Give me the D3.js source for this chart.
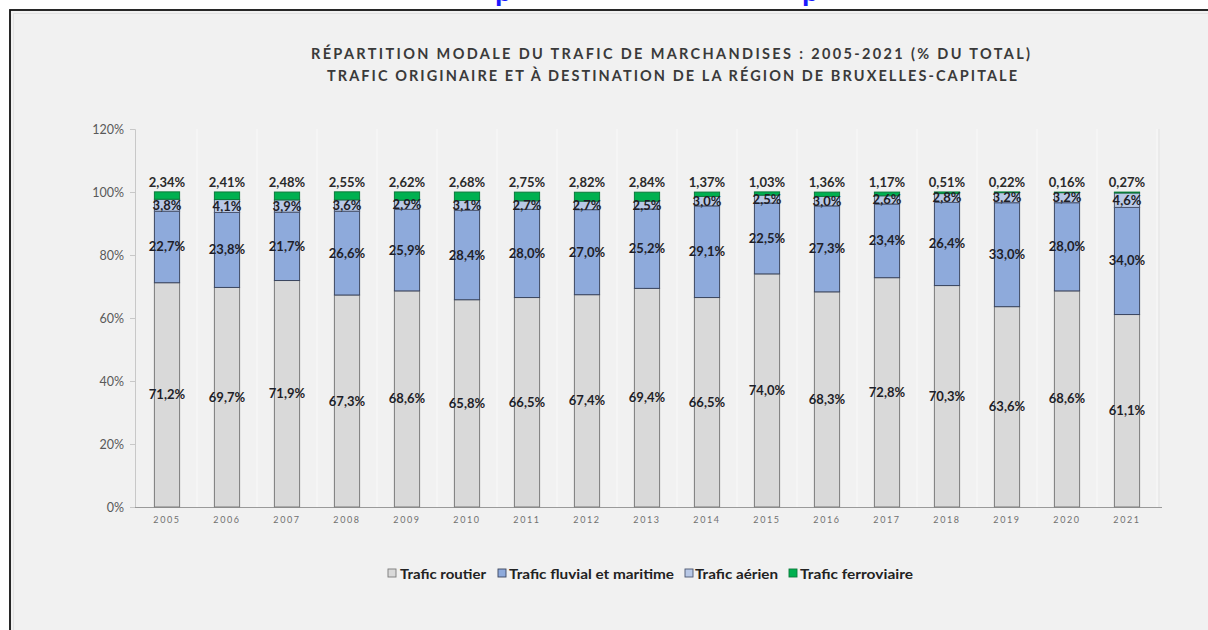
<!DOCTYPE html>
<html>
<head>
<meta charset="utf-8">
<script src="https://cdn.jsdelivr.net/npm/d3@7"></script>
<style>
  html, body { margin: 0; padding: 0; background: #ffffff; }
  svg { display: block; }
</style>
</head>
<body>
<svg id="chart" width="1208" height="630"></svg>
<script>
// Modal split of freight traffic, Brussels-Capital Region (share of total, %)
const years = ["2005","2006","2007","2008","2009","2010","2011","2012","2013","2014","2015","2016","2017","2018","2019","2020","2021"];
const routier     = [71.2, 69.7, 71.9, 67.3, 68.6, 65.8, 66.5, 67.4, 69.4, 66.5, 74.0, 68.3, 72.8, 70.3, 63.6, 68.6, 61.1];
const fluvial     = [22.7, 23.8, 21.7, 26.6, 25.9, 28.4, 28.0, 27.0, 25.2, 29.1, 22.5, 27.3, 23.4, 26.4, 33.0, 28.0, 34.0];
const aerien      = [3.8, 4.1, 3.9, 3.6, 2.9, 3.1, 2.7, 2.7, 2.5, 3.0, 2.5, 3.0, 2.6, 2.8, 3.2, 3.2, 4.6];
const ferroviaire = [2.34, 2.41, 2.48, 2.55, 2.62, 2.68, 2.75, 2.82, 2.84, 1.37, 1.03, 1.36, 1.17, 0.51, 0.22, 0.16, 0.27];
const yTicks = [0, 20, 40, 60, 80, 100, 120];

const series = [
  { key: "routier",     label: "Trafic routier",             values: routier,     fill: "#d9d9d9", stroke: "#7a7a7a", digits: 1 },
  { key: "fluvial",     label: "Trafic fluvial et maritime", values: fluvial,     fill: "#8eaadb", stroke: "#3b4660", digits: 1 },
  { key: "aerien",      label: "Trafic aérien",              values: aerien,      fill: "#b8c8e6", stroke: "#4b5670", digits: 1 },
  { key: "ferroviaire", label: "Trafic ferroviaire",         values: ferroviaire, fill: "#00b050", stroke: "#0b7a3a", digits: 2 }
];

const rows = years.map((y, i) => {
  const r = { year: y };
  series.forEach(s => r[s.key] = s.values[i]);
  return r;
});
const stacked = d3.stack().keys(series.map(s => s.key))(rows);

const fmt = (v, d) => v.toFixed(d).replace(".", ",") + "%";
const FONT = "Lato, 'Open Sans', sans-serif";

const svg = d3.select("#chart");

// page and chart frame
svg.append("rect").attr("x", 0).attr("y", 0).attr("width", 1208).attr("height", 630).attr("fill", "#ffffff");
svg.append("rect").attr("x", 10).attr("y", 10).attr("width", 1210).attr("height", 640)
  .attr("fill", "#f1f1f1").attr("stroke", "#111").attr("stroke-width", 1.8);
svg.append("rect").attr("x", 13.5).attr("y", 13.5).attr("width", 1200).attr("height", 630)
  .attr("fill", "none").attr("stroke", "#e2e2e2").attr("stroke-width", 1);

// heading above the frame, mostly cut off by the top of the page
svg.append("text").attr("x", 495).attr("y", 1).attr("font-family", FONT).attr("font-weight", "bold")
  .attr("font-size", 30).attr("fill", "#1a1aff").text("p");
svg.append("text").attr("x", 802).attr("y", 1).attr("font-family", FONT).attr("font-weight", "bold")
  .attr("font-size", 30).attr("fill", "#1a1aff").text("p");

// title
const title = svg.append("g").attr("font-family", FONT).attr("font-weight", "bold")
  .attr("font-size", 14.5).attr("fill", "#3a3a3a");
title.append("text").attr("x", 311).attr("y", 59).attr("textLength", 719).attr("lengthAdjust", "spacing")
  .text("RÉPARTITION MODALE DU TRAFIC DE MARCHANDISES : 2005-2021 (% DU TOTAL)");
title.append("text").attr("x", 327).attr("y", 81).attr("textLength", 690).attr("lengthAdjust", "spacing")
  .text("TRAFIC ORIGINAIRE ET À DESTINATION DE LA RÉGION DE BRUXELLES-CAPITALE");

// scales
const x = d3.scaleBand().domain(years).range([137, 1157]).paddingInner(0.58).paddingOuter(0.29);
const y = d3.scaleLinear().domain([0, 120]).range([507, 129]);
const step = x.step();

// vertical separators between categories
const grid = svg.append("g");
years.forEach((yr, i) => {
  const gx = 137 + step * (i + 1);
  grid.append("line").attr("x1", gx).attr("x2", gx).attr("y1", 129).attr("y2", 507)
    .attr("stroke", "#f9f9f9").attr("stroke-width", 1.2);
});
grid.append("line").attr("x1", 1159).attr("x2", 1159).attr("y1", 129).attr("y2", 507)
  .attr("stroke", "#e6e6e6").attr("stroke-width", 1.2);

// y axis
const yAxis = svg.append("g").attr("transform", "translate(135,0)")
  .call(d3.axisLeft(y).tickValues(yTicks).tickSize(5).tickPadding(6).tickFormat(d => d + "%"));
yAxis.select(".domain").attr("stroke", "#c8c8c8");
yAxis.selectAll(".tick line").attr("stroke", "#c8c8c8");
yAxis.selectAll(".tick text").attr("font-family", FONT).attr("font-size", 12.5).attr("fill", "#595959");

// x axis
const xAxis = svg.append("g").attr("transform", "translate(0,507)")
  .call(d3.axisBottom(x).tickSize(0).tickPadding(10));
xAxis.select(".domain").attr("d", "M135,0.5H1162").attr("stroke", "#9a9a9a").attr("stroke-width", 1.2);
xAxis.selectAll(".tick text").attr("font-family", FONT).attr("font-size", 9).attr("fill", "#707070")
  .attr("letter-spacing", "1.6px");

// stacked bars
const layers = svg.append("g").selectAll("g").data(stacked).join("g")
  .attr("fill", (d, i) => series[i].fill).attr("stroke", (d, i) => series[i].stroke).attr("stroke-width", 1);
layers.selectAll("rect").data(d => d).join("rect")
  .attr("x", d => x(d.data.year))
  .attr("width", x.bandwidth())
  .attr("y", d => y(d[1]))
  .attr("height", d => y(d[0]) - y(d[1]));

// value labels
const labels = svg.append("g").attr("font-family", FONT).attr("font-weight", "bold").attr("font-size", 13)
  .attr("text-anchor", "middle");
stacked.forEach((layer, si) => {
  const s = series[si];
  layer.forEach((d, i) => {
    const cx = x(d.data.year) + x.bandwidth() / 2;
    let ty, col = "#1e1e28";
    if (s.key === "ferroviaire") { ty = y(d[1]) - 5; col = "#2a2a2a"; }
    else ty = (y(d[0]) + y(d[1])) / 2 + 4.5;
    labels.append("text").attr("x", cx).attr("y", ty).attr("fill", col).text(fmt(s.values[i], s.digits));
  });
});

// legend
const legendPos = [
  { sx: 388, tx: 400, w: 86 },
  { sx: 498, tx: 509, w: 165 },
  { sx: 685, tx: 695, w: 83 },
  { sx: 789, tx: 800, w: 113 }
];
const legend = svg.append("g").attr("font-family", FONT).attr("font-weight", "bold").attr("font-size", 14)
  .attr("fill", "#222");
series.forEach((s, i) => {
  legend.append("rect").attr("x", legendPos[i].sx).attr("y", 569).attr("width", 8).attr("height", 8)
    .attr("fill", s.fill).attr("stroke", s.stroke).attr("stroke-width", 0.9);
  legend.append("text").attr("x", legendPos[i].tx).attr("y", 578.5)
    .attr("textLength", legendPos[i].w).attr("lengthAdjust", "spacingAndGlyphs").text(s.label);
});
</script>
</body>
</html>
